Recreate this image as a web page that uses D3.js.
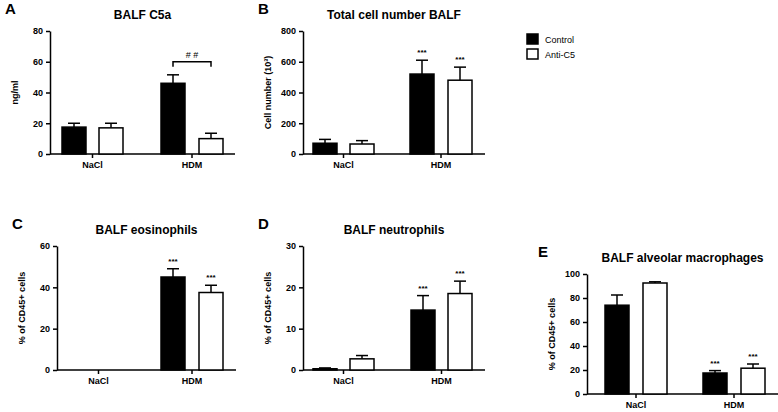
<!DOCTYPE html><html><head><meta charset="utf-8"><script src="https://cdn.jsdelivr.net/npm/d3@7"></script>
<style>body{margin:0;background:#fff}text{font-family:"Liberation Sans",Arial,sans-serif;font-weight:bold}</style></head><body><svg width="778" height="412"></svg><script>
const groups=["NaCl","HDM"];
const seriesNames=["Control","Anti-C5"];
const c5aMean=[[17.5,17],[46,10]], c5aErr=[[2.5,3],[5.5,3.5]];
const cellMean=[[70,65],[520,480]], cellErr=[[25,22],[90,85]];
const eosMean=[[0,0],[45,37.5]], eosErr=[[0,0],[4,3.5]];
const neuMean=[[0.3,2.7],[14.5,18.5]], neuErr=[[0.2,0.8],[3.5,3]];
const macMean=[[74,92.5],[17.5,21.5]], macErr=[[8.5,1],[2,3.5]];
const svg=d3.select("svg");
const panels=[
 {L:"A",t:"BALF C5a",yl:"ng/ml",m:c5aMean,e:c5aErr,max:80,step:20,x0:50,x1:235,y0:154,y1:31,bars:[62,99,161,199],stars:false,hash:true},
 {L:"B",t:"Total cell number BALF",yl:"Cell number (10³)",m:cellMean,e:cellErr,max:800,step:200,x0:303,x1:485,y0:154,y1:31,bars:[313,350,410,448],stars:true},
 {L:"C",t:"BALF eosinophils",yl:"% of CD45+ cells",m:eosMean,e:eosErr,max:60,step:20,x0:57,x1:236,y0:370,y1:246,bars:[68,105,161,199],stars:true},
 {L:"D",t:"BALF neutrophils",yl:"% of CD45+ cells",m:neuMean,e:neuErr,max:30,step:10,x0:303,x1:485,y0:370,y1:246,bars:[313,350,411,448],stars:true},
 {L:"E",t:"BALF alveolar macrophages",yl:"% of CD45+ cells",m:macMean,e:macErr,max:100,step:20,x0:587,x1:778,y0:394,y1:274,bars:[605,643,703,741],stars:true}
];
panels.forEach(p=>{
 const g=svg.append("g");
 const y=d3.scaleLinear().domain([0,p.max]).range([p.y0,p.y1]);
 const bw=24;
 g.append("g").attr("transform",`translate(${p.x0},0)`).call(d3.axisLeft(y).tickValues(d3.range(0,p.max+1,p.step)).tickSize(4).tickSizeOuter(0))
  .call(a=>{a.selectAll("text").style("font-size","9px");a.selectAll("line,path").attr("stroke","#000").attr("stroke-width",1.5);});
 g.append("line").attr("x1",p.x0).attr("x2",p.x1).attr("y1",p.y0).attr("y2",p.y0).attr("stroke","#000").attr("stroke-width",1.5);
 groups.forEach((gn,gi)=>{
  const cx=(p.bars[gi*2]+p.bars[gi*2+1]+bw)/2;
  g.append("line").attr("x1",cx).attr("x2",cx).attr("y1",p.y0).attr("y2",p.y0+4).attr("stroke","#000").attr("stroke-width",1.5);
  g.append("text").attr("x",cx).attr("y",p.y0+14).attr("text-anchor","middle").style("font-size","9px").text(gn);
  [0,1].forEach(si=>{
   const v=p.m[gi][si],e=p.e[gi][si],bx=p.bars[gi*2+si];
   if(v>0){
    const ex=bx+bw/2;
    g.append("line").attr("x1",ex).attr("x2",ex).attr("y1",y(v)).attr("y2",y(v+e)).attr("stroke","#000").attr("stroke-width",1.5);
    g.append("line").attr("x1",ex-6).attr("x2",ex+6).attr("y1",y(v+e)).attr("y2",y(v+e)).attr("stroke","#000").attr("stroke-width",1.5);
    g.append("rect").attr("x",bx).attr("y",y(v)).attr("width",bw).attr("height",p.y0-y(v)).attr("fill",si?"#fff":"#000").attr("stroke","#000").attr("stroke-width",1.5);
   }
   if(p.stars&&gi===1) g.append("text").attr("x",bx+bw/2).attr("y",y(v+e)-5).attr("text-anchor","middle").style("font-size","8px").text("***");
  });
 });
 if(p.hash){
  const a=p.bars[2]+bw/2,b=p.bars[3]+bw/2,yy=y(60);
  g.append("path").attr("d",`M${a},${yy+5}V${yy}H${b}V${yy+5}`).attr("fill","none").attr("stroke","#000").attr("stroke-width",1.5);
  g.append("text").attr("x",(a+b)/2).attr("y",yy-4).attr("text-anchor","middle").style("font-size","9px").style("font-weight","normal").text("# #");
 }
 g.append("text").attr("x",(p.x0+p.x1)/2).attr("y",p.y1-12).attr("text-anchor","middle").style("font-size","12px").text(p.t);
 g.append("text").attr("x",p.x0-45+(p.L==="E"?-4:0)).attr("y",p.y1-17).style("font-size","15px").text(p.L);
 g.append("text").attr("transform",`translate(${p.x0-32},${(p.y0+p.y1)/2}) rotate(-90)`).attr("text-anchor","middle").style("font-size","9px").text(p.yl);
});
seriesNames.forEach((s,i)=>{
 svg.append("rect").attr("x",527).attr("y",34+i*15).attr("width",11).attr("height",10).attr("fill",i?"#fff":"#000").attr("stroke","#000").attr("stroke-width",1.5);
 svg.append("text").attr("x",545).attr("y",43+i*15).style("font-size","9px").style("font-weight","normal").text(s);
});
</script></body></html>
